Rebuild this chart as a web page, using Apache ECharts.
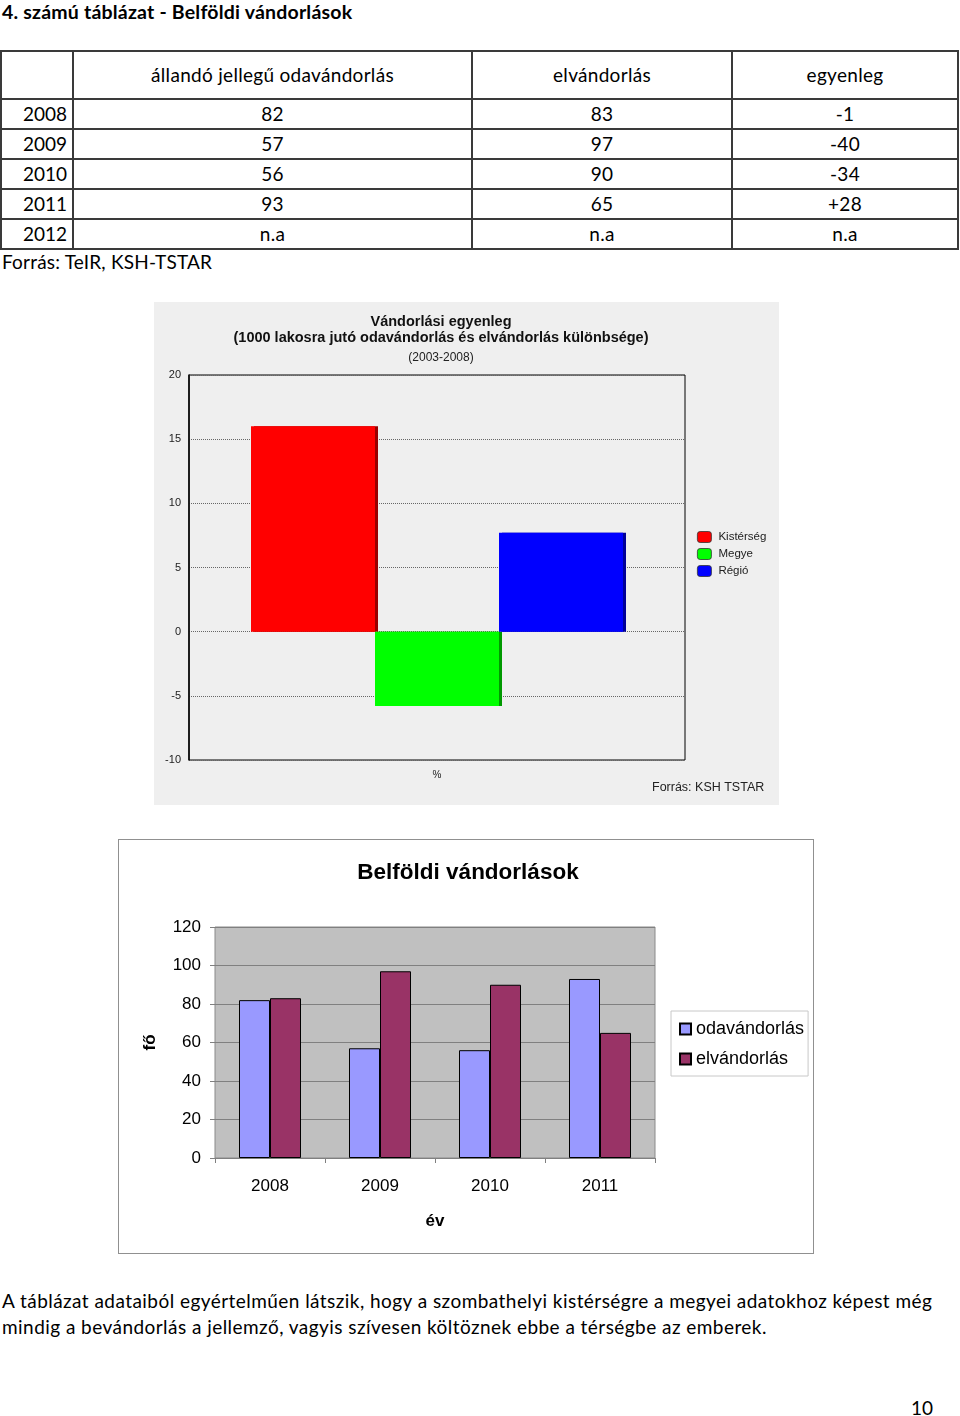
<!DOCTYPE html>
<html>
<head>
<meta charset="utf-8">
<script src="https://cdn.jsdelivr.net/npm/echarts@6/dist/echarts.min.js"></script>
<style>
  html, body { margin: 0; padding: 0; background: #fff; }
  body { width: 960px; height: 1416px; position: relative; overflow: hidden; font-family: Lato, "Open Sans", sans-serif; color: #000; }
  .abs { position: absolute; }
  #title { left: 2px; top: 0px; font-size: 19.5px; font-weight: bold; line-height: 24px; letter-spacing: 0.2px; }
  table { position: absolute; left: 0px; top: 50px; border-collapse: collapse; font-size: 19px; letter-spacing: 0.3px; }
  td { border: 2px solid #3a3a3a; padding: 0; height: 28px; line-height: 28px; text-align: center; }
  tr.head td { height: 46px; }
  td.yr { text-align: right; padding-right: 5px; letter-spacing: 0; }
  #src { left: 2px; top: 250px; font-size: 19px; line-height: 24px; letter-spacing: 0.2px; }
  #c1 { left: 154px; top: 302px; width: 625px; height: 503px; }
  #c2 { left: 118px; top: 839px; width: 694px; height: 413px; border: 1px solid #909090; }
  #para { left: 2px; top: 1288px; width: 958px; font-size: 19px; line-height: 26px; letter-spacing: 0.45px; white-space: nowrap; }
  #pg { left: 911px; top: 1396px; font-size: 19px; line-height: 24px; }
</style>
</head>
<body>
<div id="title" class="abs">4. számú táblázat - Belföldi vándorlások</div>
<table id="tbl"></table>
<div id="src" class="abs">Forrás: TeIR, KSH-TSTAR</div>
<div id="c1" class="abs"></div>
<div id="c2" class="abs"></div>
<div id="para" class="abs">A táblázat adataiból egyértelműen látszik, hogy a szombathelyi kistérségre a megyei adatokhoz képest még<br>mindig a bevándorlás a jellemző, vagyis szívesen költöznek ebbe a térségbe az emberek.</div>
<div id="pg" class="abs">10</div>
<script>
// ---- table data ----
var tableHeaders = ["", "állandó jellegű odavándorlás", "elvándorlás", "egyenleg"];
var tableYears = ["2008", "2009", "2010", "2011", "2012"];
var tableOdav = ["82", "57", "56", "93", "n.a"];
var tableElv = ["83", "97", "90", "65", "n.a"];
var tableEgy = ["-1", "-40", "-34", "+28", "n.a"];

// ---- chart 1 data ----
var balanceSeriesNames = ["Kistérség", "Megye", "Régió"];
var balanceValues = [16, -5.8, 7.7];
var balanceTicks = [-10, -5, 0, 5, 10, 15, 20];

// ---- chart 2 data ----
var years = ["2008", "2009", "2010", "2011"];
var odavandorlas = [82, 57, 56, 93];
var elvandorlas = [83, 97, 90, 65];
var countTicks = [0, 20, 40, 60, 80, 100, 120];

// build table
(function () {
  var widths = [70, 397, 258, 224];
  var t = document.getElementById('tbl');
  var h = '<tr class="head">';
  tableHeaders.forEach(function (x, i) { h += '<td style="width:' + widths[i] + 'px">' + x + '</td>'; });
  h += '</tr>';
  for (var i = 0; i < tableYears.length; i++) {
    h += '<tr><td class="yr">' + tableYears[i] + '</td><td>' + tableOdav[i] + '</td><td>' + tableElv[i] + '</td><td>' + tableEgy[i] + '</td></tr>';
  }
  t.innerHTML = h;
})();

// chart 1
var c1 = echarts.init(document.getElementById('c1'));
var cols1 = ['#ff0000', '#00ff00', '#0000ff'];
var shade1 = ['#990000', '#009900', '#000099'];
c1.setOption({
  backgroundColor: '#efefef',
  animation: false,
  textStyle: { fontFamily: 'Liberation Sans, Arial, sans-serif' },
  title: [
    { text: 'Vándorlási egyenleg\n(1000 lakosra jutó odavándorlás és elvándorlás különbsége)', left: 282, top: 7, textAlign: 'center',
      textStyle: { fontSize: 14.5, fontWeight: 'bold', color: '#111', lineHeight: 16 } },
    { text: '(2003-2008)', left: 282, top: 45, textAlign: 'center', textStyle: { fontSize: 12, fontWeight: 'normal', color: '#222' } }
  ],
  legend: {
    orient: 'vertical', left: 538, top: 224, itemWidth: 14, itemHeight: 11, itemGap: 5,
    textStyle: { fontSize: 11.5, color: '#222', padding: [0, 0, 0, 2] }, data: balanceSeriesNames,
    itemStyle: { borderColor: '#333', borderWidth: 0.8 }
  },
  grid: { left: 35, top: 73, width: 496, height: 385, show: true, borderColor: '#000', borderWidth: 1, backgroundColor: 'transparent' },
  xAxis: { type: 'category', data: [''], name: '%', nameLocation: 'middle', nameGap: 10,
    nameTextStyle: { fontSize: 10, color: '#222' },
    axisLine: { show: false }, axisTick: { show: false }, axisLabel: { show: false } },
  yAxis: { type: 'value', min: balanceTicks[0], max: balanceTicks[balanceTicks.length - 1], interval: 5,
    axisLine: { show: true, lineStyle: { color: '#000', width: 1.5 } }, axisTick: { show: false },
    axisLabel: { fontSize: 11, color: '#222', margin: 8 },
    splitLine: { lineStyle: { type: 'dotted', color: '#666' } } },
  graphic: [{ type: 'text', left: 498, top: 479, style: { text: 'Forrás: KSH TSTAR', fontSize: 12.5, fill: '#222', fontFamily: 'Liberation Sans, Arial, sans-serif' } }],
  series: balanceSeriesNames.map(function (n, i) {
    return { type: 'bar', name: n, data: [balanceValues[i]], barWidth: 124, barGap: '0%',
      itemStyle: { color: cols1[i], shadowColor: shade1[i], shadowOffsetX: 3, shadowBlur: 0 } };
  })
});

// chart 2
var c2 = echarts.init(document.getElementById('c2'));
c2.setOption({
  backgroundColor: '#fff',
  animation: false,
  textStyle: { fontFamily: 'Liberation Sans, Arial, sans-serif' },
  title: { text: 'Belföldi vándorlások', left: 344, top: 16, textAlign: 'center',
    textStyle: { fontSize: 22.5, fontWeight: 'bold', color: '#000' } },
  legend: {
    orient: 'vertical', left: 552, top: 171, padding: [9, 4, 8, 8], itemGap: 12,
    backgroundColor: '#fff', borderColor: '#c8c8c8', borderWidth: 1,
    icon: 'rect', itemWidth: 11, itemHeight: 11,
    textStyle: { fontSize: 18, color: '#000', padding: [0, 0, 0, 0] },
    data: ['odavándorlás', 'elvándorlás']
  },
  grid: { left: 96, top: 87, width: 440, height: 231, show: true, backgroundColor: '#c0c0c0', borderColor: '#8a8a8a', borderWidth: 1 },
  xAxis: { type: 'category', data: years, name: 'év', nameLocation: 'middle', nameGap: 55,
    nameTextStyle: { fontSize: 17, fontWeight: 'bold', color: '#000' },
    axisLine: { lineStyle: { color: '#808080' } }, axisTick: { show: true, length: 5, lineStyle: { color: '#808080' } },
    axisLabel: { fontSize: 17, color: '#000', margin: 20 } },
  yAxis: { type: 'value', min: countTicks[0], max: countTicks[countTicks.length - 1], interval: 20,
    name: 'fő', nameLocation: 'middle', nameGap: 56, nameRotate: 90,
    nameTextStyle: { fontSize: 17, fontWeight: 'bold', color: '#000' },
    axisLine: { show: false }, axisTick: { show: true, length: 5, lineStyle: { color: '#808080' } },
    axisLabel: { fontSize: 17, color: '#000', margin: 14 },
    splitLine: { lineStyle: { color: '#808080' } } },
  series: [
    { type: 'bar', name: 'odavándorlás', data: odavandorlas, barWidth: 31, barGap: '0%',
      itemStyle: { color: '#9999ff', borderColor: '#000', borderWidth: 1 } },
    { type: 'bar', name: 'elvándorlás', data: elvandorlas, barWidth: 31, barGap: '0%',
      itemStyle: { color: '#993366', borderColor: '#000', borderWidth: 1 } }
  ]
});
</script>
</body>
</html>
